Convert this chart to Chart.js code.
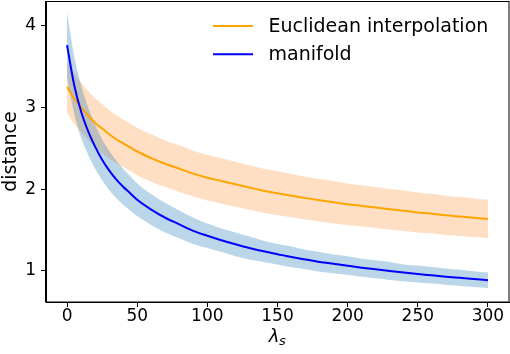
<!DOCTYPE html>
<html>
<head>
<meta charset="utf-8">
<script src="https://cdn.jsdelivr.net/npm/chart.js@4.4.1/dist/chart.umd.min.js"></script>
<style>
  html, body { margin: 0; padding: 0; background: #ffffff; }
  #wrap { width: 510px; height: 354px; }
</style>
</head>
<body>
<div id="wrap"><canvas id="c" width="510" height="354"></canvas></div>
<script>
// ---- data ----
const lambdas = [0, 5, 10, 15, 20, 25, 30, 35, 40, 45, 50,
  60, 70, 80, 90, 100, 110, 120, 130, 140, 150, 160, 170, 180, 190, 200,
  210, 220, 230, 240, 250, 260, 270, 280, 290, 300];

const euclidMean  = [3.25, 3.11, 3.00, 2.90, 2.81, 2.74, 2.67, 2.61, 2.56, 2.51, 2.46,
  2.38, 2.31, 2.25, 2.19, 2.14, 2.10, 2.06, 2.02, 1.98, 1.95, 1.92, 1.89, 1.865, 1.84, 1.815,
  1.795, 1.775, 1.755, 1.735, 1.715, 1.70, 1.68, 1.665, 1.65, 1.635];
const euclidUpper = [3.56, 3.42, 3.305, 3.20, 3.11, 3.04, 2.965, 2.905, 2.85, 2.80, 2.75,
  2.67, 2.595, 2.535, 2.47, 2.42, 2.378, 2.335, 2.292, 2.25, 2.218, 2.185, 2.152, 2.125, 2.098, 2.07,
  2.048, 2.025, 2.003, 1.982, 1.96, 1.943, 1.92, 1.903, 1.886, 1.87];
const euclidLower = [2.94, 2.80, 2.695, 2.60, 2.51, 2.44, 2.375, 2.315, 2.27, 2.22, 2.17,
  2.09, 2.025, 1.965, 1.91, 1.86, 1.822, 1.785, 1.748, 1.71, 1.682, 1.655, 1.628, 1.605, 1.582, 1.56,
  1.542, 1.525, 1.507, 1.488, 1.47, 1.457, 1.44, 1.427, 1.414, 1.40];

const manifoldMean  = [3.76, 3.28, 2.95, 2.71, 2.52, 2.36, 2.23, 2.12, 2.03, 1.95, 1.87,
  1.75, 1.65, 1.57, 1.49, 1.43, 1.375, 1.325, 1.28, 1.24, 1.205, 1.17, 1.14, 1.11, 1.087, 1.063,
  1.04, 1.02, 1.0, 0.98, 0.962, 0.946, 0.93, 0.915, 0.90, 0.886];
const manifoldUpper = [4.16, 3.63, 3.27, 3.00, 2.79, 2.61, 2.47, 2.35, 2.25, 2.16, 2.07,
  1.94, 1.83, 1.74, 1.65, 1.58, 1.52, 1.47, 1.42, 1.37, 1.33, 1.30, 1.26, 1.23, 1.20, 1.18,
  1.15, 1.13, 1.11, 1.08, 1.065, 1.047, 1.03, 1.013, 0.996, 0.981];
const manifoldLower = [3.36, 2.93, 2.63, 2.42, 2.25, 2.11, 1.99, 1.89, 1.81, 1.74, 1.67,
  1.56, 1.47, 1.40, 1.33, 1.28, 1.23, 1.18, 1.14, 1.11, 1.08, 1.045, 1.02, 0.99, 0.97, 0.95,
  0.93, 0.91, 0.89, 0.875, 0.859, 0.845, 0.83, 0.817, 0.804, 0.791];

const xTicks = [0, 50, 100, 150, 200, 250, 300];
const yTicks = [1, 2, 3, 4];
const seriesLabels = ['Euclidean interpolation', 'manifold'];
const xTitleMain = 'λ';
const xTitleSub = 's';
const yTitle = 'distance';

// ---- build ----
const pts = arr => arr.map((v, i) => ({ x: lambdas[i], y: v }));
const FONT = 'DejaVu Sans';
const ORANGE = '#ffa500';
const BLUE = '#0000ff';

const bandStyle = { borderWidth: 0, pointRadius: 0, cubicInterpolationMode: 'monotone' };

const datasets = [
  Object.assign({ label: 'euclidLower', data: pts(euclidLower), fill: false, order: 3, borderColor: 'rgba(0,0,0,0)' }, bandStyle),
  Object.assign({ label: 'euclidUpper', data: pts(euclidUpper), fill: '-1', order: 3, borderColor: 'rgba(0,0,0,0)', backgroundColor: 'rgba(255,127,14,0.25)' }, bandStyle),
  Object.assign({ label: 'manifoldLower', data: pts(manifoldLower), fill: false, order: 2, borderColor: 'rgba(0,0,0,0)' }, bandStyle),
  Object.assign({ label: 'manifoldUpper', data: pts(manifoldUpper), fill: '-1', order: 2, borderColor: 'rgba(0,0,0,0)', backgroundColor: 'rgba(31,119,180,0.3)' }, bandStyle),
  { label: seriesLabels[0], data: pts(euclidMean), borderColor: ORANGE, borderWidth: 2, pointRadius: 0, fill: false, order: 1, cubicInterpolationMode: 'monotone', legendLine: true },
  { label: seriesLabels[1], data: pts(manifoldMean), borderColor: BLUE, borderWidth: 2, pointRadius: 0, fill: false, order: 0, cubicInterpolationMode: 'monotone', legendLine: true }
];

const framePlugin = {
  id: 'frame',
  afterDraw(chart) {
    const { ctx, chartArea: a } = chart;
    ctx.save();
    ctx.strokeStyle = '#000';
    ctx.lineWidth = 1;
    ctx.strokeRect(Math.round(a.left) - 0.5, Math.round(a.top) + 0.5, Math.round(a.right - a.left) + 0.5, Math.round(a.bottom - a.top) - 0.5);

    // legend (inside axes, upper right)
    const items = chart.data.datasets.filter(d => d.legendLine);
    ctx.font = '19px "' + FONT + '"';
    ctx.textBaseline = 'middle';
    ctx.textAlign = 'left';
    items.forEach((d, i) => {
      const y = a.top + 25 + i * 28.3;
      const x0 = a.right - 296;
      ctx.strokeStyle = d.borderColor;
      ctx.lineWidth = 2;
      ctx.beginPath();
      ctx.moveTo(x0, y);
      ctx.lineTo(x0 + 40, y);
      ctx.stroke();
      ctx.fillStyle = '#000';
      ctx.fillText(d.label, x0 + 55.5, y + 1);
    });

    // x axis title with subscript
    const cx = (a.left + a.right) / 2;
    const by = 342;
    ctx.font = 'italic 18px "' + FONT + '"';
    const w1 = ctx.measureText(xTitleMain).width;
    ctx.font = 'italic 13px "' + FONT + '"';
    const w2 = ctx.measureText(xTitleSub).width;
    const start = cx - (w1 + w2) / 2;
    ctx.textBaseline = 'alphabetic';
    ctx.fillStyle = '#000';
    ctx.font = 'italic 18px "' + FONT + '"';
    ctx.fillText(xTitleMain, start, by);
    ctx.font = 'italic 13px "' + FONT + '"';
    ctx.fillText(xTitleSub, start + w1 - 0.5, by + 3);
    ctx.restore();
  }
};

new Chart(document.getElementById('c'), {
  type: 'line',
  data: { datasets },
  options: {
    responsive: false,
    animation: false,
    devicePixelRatio: 1,
    layout: { padding: { left: 0, right: 1, top: 1, bottom: 0 } },
    plugins: {
      legend: { display: false },
      tooltip: { enabled: false },
      filler: { drawTime: 'beforeDatasetsDraw', propagate: false }
    },
    scales: {
      x: {
        type: 'linear',
        min: -15,
        max: 315,
        afterBuildTicks: s => { s.ticks = xTicks.map(v => ({ value: v })); },
        afterFit: s => { s.height = 52; s.paddingLeft = 0; s.paddingRight = 0; },
        grid: { drawOnChartArea: false, drawTicks: true, tickLength: 5, color: '#000', tickWidth: 1 },
        border: { display: true, color: '#000', width: 1 },
        ticks: { color: '#000', font: { family: FONT, size: 17 }, padding: -1, maxRotation: 0, autoSkip: false }
      },
      y: {
        type: 'linear',
        min: 0.62,
        max: 4.30,
        afterBuildTicks: s => { s.ticks = yTicks.map(v => ({ value: v })); },
        afterFit: s => { s.width = 46; s.paddingTop = 0; s.paddingBottom = 0; },
        grid: { drawOnChartArea: false, drawTicks: true, tickLength: 5, color: '#000', tickWidth: 1 },
        border: { display: true, color: '#000', width: 1 },
        ticks: { color: '#000', font: { family: FONT, size: 17 }, padding: 5, autoSkip: false },
        title: { display: true, text: yTitle, color: '#000', font: { family: FONT, size: 19 }, padding: { top: 0, bottom: 0 } }
      }
    }
  },
  plugins: [framePlugin]
});
</script>
</body>
</html>
